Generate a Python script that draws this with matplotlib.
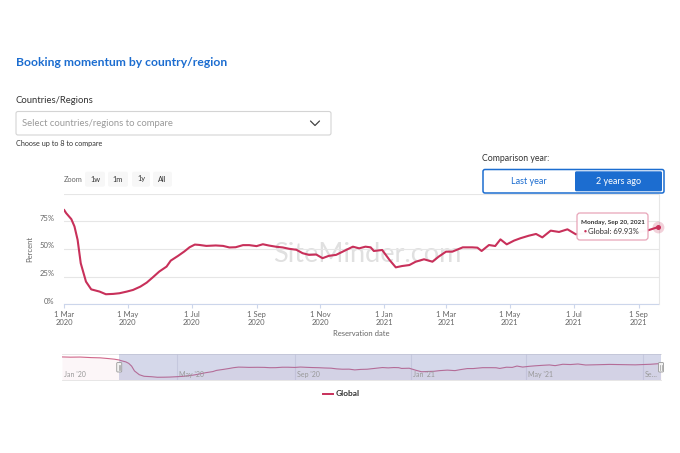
import matplotlib
matplotlib.use("Agg")
import matplotlib.pyplot as plt
import matplotlib.transforms as mtransforms
import matplotlib.dates as mdates
from matplotlib.patches import FancyBboxPatch
import pandas as pd

plt.rcParams['font.family'] = ['Lato', 'DejaVu Sans']

# ---------------- data ----------------
dates = ["2020-03-01", "2020-03-03", "2020-03-08", "2020-03-11", "2020-03-14", "2020-03-17",
         "2020-03-22", "2020-03-27", "2020-04-04", "2020-04-10", "2020-04-17", "2020-04-23",
         "2020-04-30", "2020-05-06", "2020-05-13", "2020-05-19", "2020-05-25", "2020-05-31",
         "2020-06-07", "2020-06-11", "2020-06-18", "2020-06-24", "2020-06-29", "2020-07-04",
         "2020-07-08", "2020-07-15", "2020-07-24", "2020-07-31", "2020-08-06", "2020-08-12",
         "2020-08-19", "2020-08-25", "2020-09-01", "2020-09-07", "2020-09-13", "2020-09-20",
         "2020-09-26", "2020-10-02", "2020-10-09", "2020-10-15", "2020-10-21", "2020-10-28",
         "2020-11-03", "2020-11-09", "2020-11-16", "2020-11-19", "2020-12-02", "2020-12-08",
         "2020-12-14", "2020-12-19", "2020-12-22", "2020-12-30", "2021-01-06", "2021-01-12",
         "2021-01-18", "2021-01-25", "2021-01-31", "2021-02-08", "2021-02-16", "2021-02-22",
         "2021-03-01", "2021-03-07", "2021-03-17", "2021-03-26", "2021-03-31", "2021-04-04",
         "2021-04-11", "2021-04-17", "2021-04-22", "2021-04-28", "2021-05-05", "2021-05-11",
         "2021-05-19", "2021-05-26", "2021-06-01", "2021-06-09", "2021-06-17", "2021-06-25",
         "2021-07-03", "2021-07-15", "2021-07-28", "2021-08-10", "2021-08-24", "2021-09-02",
         "2021-09-09", "2021-09-20"]
values = [85.5, 82.5, 77.0, 70.4, 58.3, 37.1,
          20.5, 13.5, 11.5, 9.1, 9.4, 10.0,
          11.5, 13.0, 16.0, 19.6, 24.5, 29.6,
          34.1, 39.5, 43.8, 47.8, 51.6, 54.0,
          53.7, 52.8, 53.2, 52.8, 51.4, 51.6,
          53.5, 53.5, 52.6, 54.3, 53.1, 52.0,
          51.4, 50.2, 49.3, 46.2, 44.7, 45.0,
          41.7, 43.8, 44.7, 46.1, 52.1, 50.6,
          52.1, 51.5, 48.2, 49.1, 40.1, 33.4,
          34.6, 35.5, 38.5, 40.7, 38.5, 43.1,
          47.6, 47.6, 51.5, 51.5, 51.2, 48.2,
          53.6, 52.7, 58.7, 54.2, 57.6, 59.7,
          62.0, 63.6, 60.5, 66.6, 65.4, 67.8,
          63.3, 64.5, 66.0, 65.0, 64.0, 65.5,
          66.6, 69.93]
# earlier history only visible in the navigator
pre_dates = ["2020-01-01", "2020-01-10", "2020-01-20", "2020-02-01", "2020-02-10",
             "2020-02-18", "2020-02-25"]
pre_values = [99.0, 98.0, 98.5, 96.0, 95.0, 92.0, 89.0]

x_ticks = ["2020-03-01", "2020-05-01", "2020-07-01", "2020-09-01", "2020-11-01",
           "2021-01-01", "2021-03-01", "2021-05-01", "2021-07-01", "2021-09-01"]
x_tick_labels = ["1 Mar\n2020", "1 May\n2020", "1 Jul\n2020", "1 Sep\n2020", "1 Nov\n2020",
                 "1 Jan\n2021", "1 Mar\n2021", "1 May\n2021", "1 Jul\n2021", "1 Sep\n2021"]
y_grid = [0, 25, 50, 75, 100]
y_ticks = [0, 25, 50, 75]
y_tick_labels = ["0%", "25%", "50%", "75%"]
nav_ticks = ["2020-01-01", "2020-05-01", "2020-09-01", "2021-01-01", "2021-05-01", "2021-09-01"]
nav_labels = ["Jan '20", "May '20", "Sep '20", "Jan '21", "May '21", "Se\u2026"]
zoom_buttons = ["1w", "1m", "1y", "All"]
series_name = "Global"
tooltip_date = "Monday, Sep 20, 2021"

# ---------------- styling ----------------
W, H = 680, 453
LINE = '#c8305a'
BLUE = '#1c6dd0'
GRID = '#e6e6e6'
AXC = '#666666'

fig = plt.figure(figsize=(W / 100, H / 100), dpi=100)
fig.patch.set_facecolor('white')


def rect(x0, y0, x1, y1):
    return [x0 / W, 1 - y1 / H, (x1 - x0) / W, (y1 - y0) / H]


def pt(px):
    return px * 0.72


# background UI layer in pixel coordinates
ui = fig.add_axes([0, 0, 1, 1], zorder=0)
ui.set_xlim(0, W)
ui.set_ylim(H, 0)
ui.axis('off')

ui.text(16, 62.5, "Booking momentum by country/region", color=BLUE, fontsize=8.75,
        fontweight='bold', va='center', ha='left')
ui.text(16, 100.5, "Countries/Regions", color='#333333', fontsize=6.8, va='center', ha='left')
ui.add_patch(FancyBboxPatch((16, 111.5), 315, 23.5, boxstyle='round,pad=0,rounding_size=2',
                            fc='white', ec='#d4d4d4', lw=0.8))
ui.text(22, 123.5, "Select countries/regions to compare", color='#9a9a9a', fontsize=6.8,
        va='center', ha='left')
ui.plot([310.5, 315, 319.5], [121, 125.5, 121], color='#444444', lw=0.9,
        solid_capstyle='round', solid_joinstyle='round')
ui.text(16, 143.5, "Choose up to 8 to compare", color='#333333', fontsize=5.2,
        va='center', ha='left')

# comparison year toggle
ui.text(482, 158.3, "Comparison year:", color='#333333', fontsize=6.3, va='center', ha='left')
ui.add_patch(FancyBboxPatch((483, 169.5), 181, 23.5, boxstyle='round,pad=0,rounding_size=2',
                            fc='white', ec=BLUE, lw=1.1))
ui.add_patch(FancyBboxPatch((575, 171.3), 87, 20, boxstyle='round,pad=0,rounding_size=1.5',
                            fc=BLUE, ec='none'))
ui.text(528.5, 182, "Last year", color=BLUE, fontsize=6.5, va='center', ha='center')
ui.text(618.5, 182, "2 years ago", color='white', fontsize=6.5, va='center', ha='center')

# zoom buttons
ui.text(63.5, 179, "Zoom", color='#666666', fontsize=5.3, va='center', ha='left')
btn_boxes = [(85, 105), (108, 128), (132, 150), (153, 172)]
for (bx0, bx1), lbl in zip(btn_boxes, zoom_buttons):
    ui.add_patch(FancyBboxPatch((bx0, 171.7), bx1 - bx0, 15, boxstyle='round,pad=0,rounding_size=2',
                                fc='#f7f7f7', ec='none'))
    ui.text((bx0 + bx1) / 2, 179, lbl, color='#333333', fontsize=5.3, va='center', ha='center')

# watermark
ui.text(367, 255, "SiteMinder.com", color='#e0e0e0', fontsize=19.5, va='center', ha='center')

# axis titles
ui.text(29.3, 249, "Percent", color=AXC, fontsize=5.5, rotation=90, va='center', ha='center')
ui.text(361, 334, "Reservation date", color=AXC, fontsize=5.5, va='center', ha='center')

# legend
ui.plot([323.3, 332.7], [394, 394], color=LINE, lw=1.4)
ui.text(336, 394, series_name, color='#333333', fontsize=6, fontweight='bold',
        va='center', ha='left')

# ---------------- main chart ----------------
ax = fig.add_axes(rect(64, 193.7, 658.5, 304.3), zorder=2)
ax.patch.set_alpha(0)
d = pd.to_datetime(dates)
ax.set_xlim(pd.Timestamp('2020-03-01'), pd.Timestamp('2021-09-20'))
ax.set_ylim(0, 100)
for v in y_grid:
    ax.axhline(v, color=GRID, lw=0.8, zorder=0)
ax.set_yticks([])
for v, lbl in zip(y_ticks, y_tick_labels):
    ax.annotate(lbl, xy=(0, v), xycoords=('axes fraction', 'data'),
                xytext=(pt(-9.5), pt(3.3)), textcoords='offset points',
                ha='right', va='center', fontsize=5.5, color=AXC)
ax.set_xticks(pd.to_datetime(x_ticks))
ax.set_xticklabels(x_tick_labels, fontsize=5.5, color=AXC, linespacing=1.2)
ax.tick_params(axis='x', length=pt(4), width=0.8, color='#ccd6eb', pad=pt(2.5))
for s in ['top', 'left']:
    ax.spines[s].set_visible(False)
ax.spines['bottom'].set_color('#ccd6eb')
ax.spines['bottom'].set_linewidth(0.8)
ax.spines['right'].set_color(GRID)
ax.spines['right'].set_linewidth(0.8)

ax.plot(d, values, color=LINE, lw=1.5, solid_joinstyle='round', solid_capstyle='round', zorder=3)
ax.plot(d[-1:], values[-1:], 'o', ms=8.5, color=LINE, alpha=0.22, mec='none', clip_on=False, zorder=4)
ax.plot(d[-1:], values[-1:], 'o', ms=3.6, color=LINE, mec='none', clip_on=False, zorder=5)

# ---------------- navigator ----------------
nav = fig.add_axes(rect(62, 354, 661, 380), zorder=2)
nav.patch.set_alpha(0)
nav_start, nav_end = pd.Timestamp('2020-01-01'), pd.Timestamp('2021-09-20')
nav.set_xlim(nav_start, nav_end)
nav.set_ylim(-3, 112)
nd = pd.to_datetime(pre_dates + dates)
nv = pre_values + values
nav.fill_between(nd, nv, -3, color=LINE, alpha=0.04, lw=0, zorder=1)
nav.plot(nd, nv, color='#d0678a', lw=0.8, zorder=2)
for t in pd.to_datetime(nav_ticks[1:]):
    nav.axvline(t, color='#e9e9ee', lw=0.8, zorder=0.5)
nav.axvspan(pd.Timestamp('2020-03-01'), nav_end, color=(112 / 255, 122 / 255, 185 / 255), alpha=0.29,
            lw=0, zorder=3)
btrans = mtransforms.blended_transform_factory(nav.transData, nav.transAxes)
for t, lbl in zip(pd.to_datetime(nav_ticks), nav_labels):
    nav.annotate(lbl, xy=(mdates.date2num(t), 0.2), xycoords=btrans, xytext=(pt(2), 0),
                 textcoords='offset points', fontsize=5, color='#999999', va='center',
                 ha='left', zorder=4)
nav.set_xticks([])
nav.set_yticks([])
for s in ['left', 'right']:
    nav.spines[s].set_visible(False)
for s in ['top', 'bottom']:
    nav.spines[s].set_color('#e3e3e3')
    nav.spines[s].set_linewidth(0.6)

# ---------------- foreground overlay (tooltip, navigator handles) ----------------
top = fig.add_axes([0, 0, 1, 1], zorder=6)
top.set_xlim(0, W)
top.set_ylim(H, 0)
top.axis('off')
top.patch.set_alpha(0)

top.add_patch(FancyBboxPatch((577, 213), 71, 27, boxstyle='round,pad=0,rounding_size=3',
                             fc='white', ec='#e7a2b6', lw=0.9, alpha=0.97))
top.text(612.5, 222.5, tooltip_date, color='#333333', fontsize=4.6, fontweight='bold',
         va='center', ha='center')
top.text(583.5, 231.3, "\u25cf", color=LINE, fontsize=3.6, va='center', ha='left')
top.text(588, 231.3, f"{series_name}: {values[-1]:.2f}%", color='#333333', fontsize=5.5,
         va='center', ha='left')

for t in [pd.Timestamp('2020-03-01'), nav_end]:
    xd = nav.transData.transform((mdates.date2num(t), 0))[0]
    top.add_patch(FancyBboxPatch((xd - 2.5, 362.5), 5, 9.5, boxstyle='round,pad=0,rounding_size=1',
                                 fc='#f2f2f2', ec='#999999', lw=0.6))
    top.plot([xd - 0.7, xd - 0.7], [365, 369.5], color='#999999', lw=0.5)
    top.plot([xd + 0.7, xd + 0.7], [365, 369.5], color='#999999', lw=0.5)

fig.savefig('out.png', dpi=100)
